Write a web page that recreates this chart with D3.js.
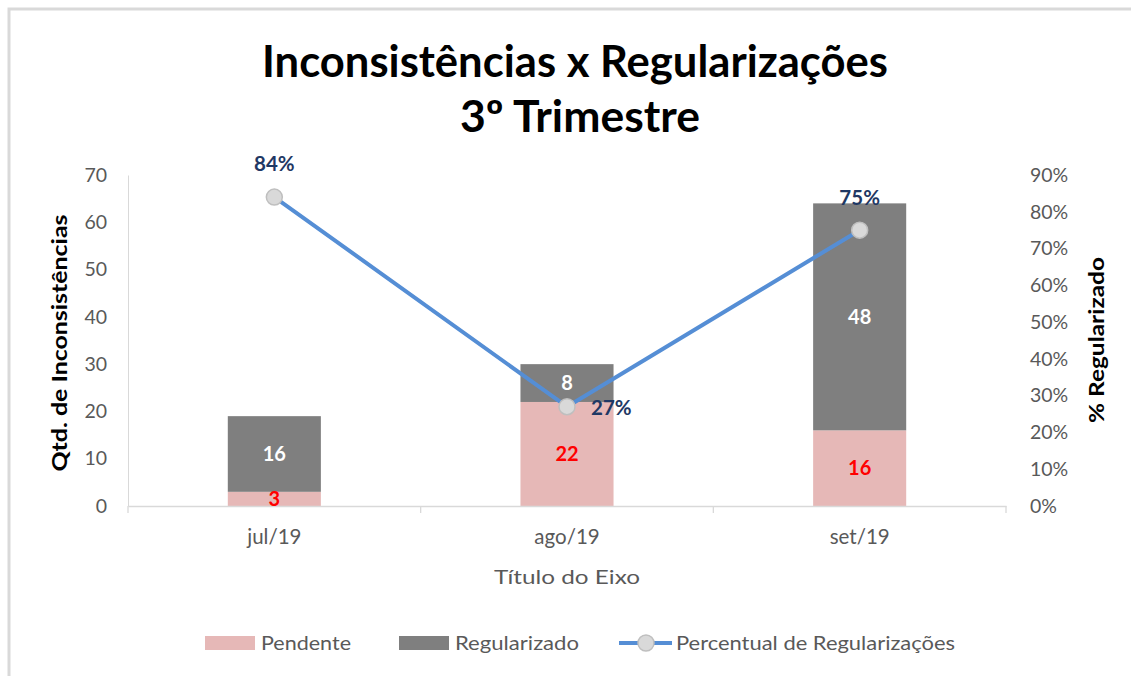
<!DOCTYPE html>
<html>
<head>
<meta charset="utf-8">
<script src="https://cdn.jsdelivr.net/npm/d3@7"></script>
<style>
  body { margin: 0; background: #fff; }
  svg { display: block; font-family: Lato, "Open Sans", sans-serif; }
</style>
</head>
<body>
<div id="chart"></div>
<script>
const categories = ["jul/19", "ago/19", "set/19"];
const pendente = [3, 22, 16];
const regularizado = [16, 8, 48];
const percentual = [0.84, 0.27, 0.75];
const countTicks = [0, 10, 20, 30, 40, 50, 60, 70];
const pctTicks = [0, 0.1, 0.2, 0.3, 0.4, 0.5, 0.6, 0.7, 0.8, 0.9];
const seriesNames = ["Pendente", "Regularizado", "Percentual de Regularizações"];

const W = 1131, H = 676;
const plot = { left: 128, right: 1006, top: 175, bottom: 506 };
const colPend = "#e6b8b7", colReg = "#7f7f7f", colLine = "#558ed5";
const tickGray = "#595959";

const svg = d3.select("#chart").append("svg")
  .attr("width", W)
  .attr("height", H);

svg.append("rect").attr("width", W).attr("height", H).attr("fill", "#fff");

// chart frame (only top & left edges visible)
svg.append("path")
  .attr("d", `M9,${H} L9,9 L${W},9`)
  .attr("fill", "none")
  .attr("stroke", "#d9d9d9")
  .attr("stroke-width", 3);

// title
svg.append("text")
  .attr("x", 575).attr("y", 77)
  .attr("text-anchor", "middle")
  .attr("font-size", 44).attr("font-weight", 700)
  .attr("textLength", 626).attr("lengthAdjust", "spacingAndGlyphs")
  .text("Inconsistências x Regularizações");
svg.append("text")
  .attr("x", 580).attr("y", 132)
  .attr("text-anchor", "middle")
  .attr("font-size", 44).attr("font-weight", 700)
  .attr("textLength", 240).attr("lengthAdjust", "spacingAndGlyphs")
  .text("3º Trimestre");

const x = d3.scaleBand()
  .domain(categories)
  .range([plot.left, plot.right])
  .padding(0);
const barW = x.bandwidth() * 0.318;

const y = d3.scaleLinear().domain([0, 70]).range([plot.bottom, plot.top]);
const yPct = d3.scaleLinear().domain([0, 0.9]).range([plot.bottom, plot.top]);

// left axis
const gLeft = svg.append("g")
  .attr("transform", `translate(${plot.left},0)`)
  .call(d3.axisLeft(y).tickValues(countTicks).tickSize(0).tickSizeOuter(0).tickPadding(21));
gLeft.select(".domain").attr("stroke", "#d9d9d9");
gLeft.selectAll("text").attr("font-size", 19.5).attr("fill", tickGray).attr("font-family", "Lato");

// right axis
const gRight = svg.append("g")
  .attr("transform", `translate(${plot.right},0)`)
  .call(d3.axisRight(yPct).tickValues(pctTicks).tickSize(0).tickPadding(24).tickFormat(d3.format(".0%")));
gRight.select(".domain").remove();
gRight.selectAll("text").attr("font-size", 19.5).attr("fill", tickGray).attr("font-family", "Lato");

// stacked bars
const rows = categories.map((c, i) => ({ cat: c, Pendente: pendente[i], Regularizado: regularizado[i] }));
const stack = d3.stack().keys(["Pendente", "Regularizado"])(rows);
const colors = { Pendente: colPend, Regularizado: colReg };

stack.forEach(layer => {
  svg.append("g").selectAll("rect")
    .data(layer)
    .join("rect")
    .attr("x", d => x(d.data.cat) + x.bandwidth() / 2 - barW / 2)
    .attr("y", d => y(d[1]))
    .attr("width", barW)
    .attr("height", d => y(d[0]) - y(d[1]))
    .attr("fill", colors[layer.key]);
});

// bottom axis
const gBottom = svg.append("g")
  .attr("transform", `translate(0,${plot.bottom})`)
  .call(d3.axisBottom(x).tickSize(0).tickSizeOuter(0).tickPadding(23));
gBottom.select(".domain").attr("stroke", "#d9d9d9").attr("stroke-width", 1.3);
gBottom.selectAll("text").attr("font-size", 20.5).attr("fill", tickGray).attr("font-family", "Lato");
// category boundary ticks
const bounds = categories.map(c => x(c)).concat([plot.right]);
svg.append("g").selectAll("line")
  .data(bounds)
  .join("line")
  .attr("x1", d => d).attr("x2", d => d)
  .attr("y1", plot.bottom).attr("y2", plot.bottom + 7)
  .attr("stroke", "#d9d9d9").attr("stroke-width", 1.3);

// bar labels
stack.forEach(layer => {
  svg.append("g").selectAll("text")
    .data(layer)
    .join("text")
    .attr("x", d => x(d.data.cat) + x.bandwidth() / 2)
    .attr("y", d => y((d[0] + d[1]) / 2))
    .attr("dy", "0.36em")
    .attr("text-anchor", "middle")
    .attr("font-size", 20).attr("font-weight", 700)
    .attr("fill", layer.key === "Pendente" ? "#ff0000" : "#ffffff")
    .text(d => d.data[layer.key]);
});

// percentage line
const pts = categories.map((c, i) => ({ cat: c, v: percentual[i] }));
const line = d3.line().x(d => x(d.cat) + x.bandwidth() / 2).y(d => yPct(d.v));
svg.append("path")
  .datum(pts)
  .attr("d", line)
  .attr("fill", "none")
  .attr("stroke", colLine)
  .attr("stroke-width", 4)
  .attr("stroke-linejoin", "round");
svg.append("g").selectAll("circle")
  .data(pts)
  .join("circle")
  .attr("cx", d => x(d.cat) + x.bandwidth() / 2)
  .attr("cy", d => yPct(d.v))
  .attr("r", 8)
  .attr("fill", "#d9d9d9")
  .attr("stroke", "#bfbfbf")
  .attr("stroke-width", 1.5);

// percentage labels: middle one sits to the right, others above
svg.append("g").selectAll("text")
  .data(pts)
  .join("text")
  .attr("x", (d, i) => x(d.cat) + x.bandwidth() / 2 + (i === 1 ? 24 : 0))
  .attr("y", (d, i) => yPct(d.v) + (i === 1 ? 1 : -33))
  .attr("dy", "0.36em")
  .attr("text-anchor", (d, i) => i === 1 ? "start" : "middle")
  .attr("font-size", 20.5).attr("font-weight", 700)
  .attr("fill", "#1f3864")
  .text(d => d3.format(".0%")(d.v));

// axis titles
svg.append("text")
  .attr("transform", "translate(67,343) rotate(-90)")
  .attr("text-anchor", "middle")
  .attr("font-size", 21).attr("font-weight", 700)
  .attr("textLength", 257).attr("lengthAdjust", "spacingAndGlyphs")
  .text("Qtd. de Inconsistências");
svg.append("text")
  .attr("transform", "translate(1104,340) rotate(-90)")
  .attr("text-anchor", "middle")
  .attr("font-size", 21).attr("font-weight", 700)
  .attr("textLength", 166).attr("lengthAdjust", "spacingAndGlyphs")
  .text("% Regularizado");
svg.append("text")
  .attr("x", 567).attr("y", 584)
  .attr("text-anchor", "middle")
  .attr("font-size", 20).attr("fill", tickGray)
  .attr("textLength", 146).attr("lengthAdjust", "spacingAndGlyphs")
  .text("Título do Eixo");

// legend
const lg = svg.append("g").attr("font-size", 19).attr("fill", tickGray);
const ly = 643;
lg.append("rect").attr("x", 205).attr("y", ly - 7).attr("width", 50).attr("height", 14).attr("fill", colPend);
lg.append("text").attr("x", 261).attr("y", ly).attr("dy", "0.36em")
  .attr("textLength", 90).attr("lengthAdjust", "spacingAndGlyphs").text(seriesNames[0]);
lg.append("rect").attr("x", 399).attr("y", ly - 7).attr("width", 50).attr("height", 14).attr("fill", colReg);
lg.append("text").attr("x", 455).attr("y", ly).attr("dy", "0.36em")
  .attr("textLength", 124).attr("lengthAdjust", "spacingAndGlyphs").text(seriesNames[1]);
lg.append("line").attr("x1", 619).attr("x2", 672).attr("y1", ly).attr("y2", ly)
  .attr("stroke", colLine).attr("stroke-width", 4);
lg.append("circle").attr("cx", 646).attr("cy", ly).attr("r", 8)
  .attr("fill", "#d9d9d9").attr("stroke", "#bfbfbf").attr("stroke-width", 1.5);
lg.append("text").attr("x", 676).attr("y", ly).attr("dy", "0.36em")
  .attr("textLength", 279).attr("lengthAdjust", "spacingAndGlyphs").text(seriesNames[2]);
</script>
</body>
</html>
